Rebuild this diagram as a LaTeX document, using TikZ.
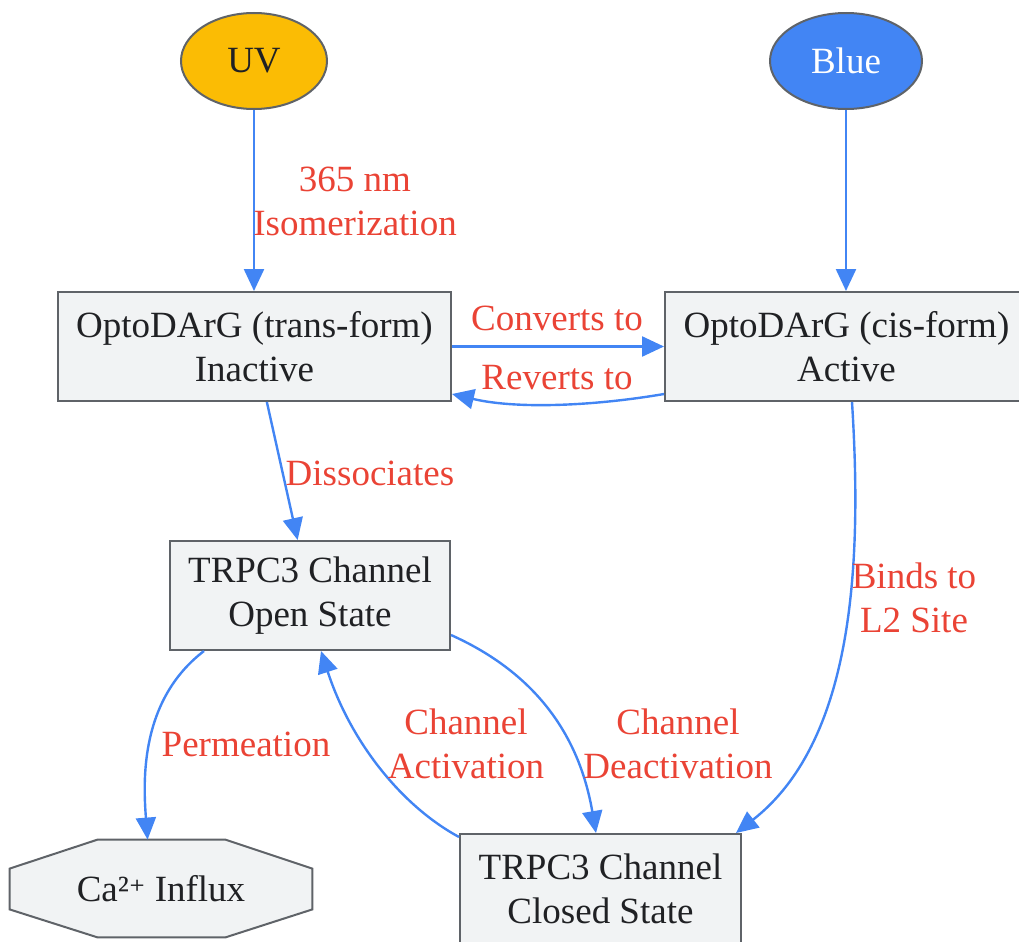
\documentclass[tikz,border=0pt]{standalone}
\usepackage{fontspec}
\setmainfont{Liberation Serif}
\newfontfamily\dejavuserif{DejaVu Serif}[Scale=0.85]
\usetikzlibrary{arrows.meta,calc,shapes.geometric}
\definecolor{gblue}{HTML}{4285F4}
\definecolor{gred}{HTML}{EA4335}
\definecolor{gyellow}{HTML}{FBBC04}
\definecolor{boxfill}{HTML}{F1F3F4}
\definecolor{boxline}{HTML}{5F6368}
\definecolor{txt}{HTML}{202124}
\tikzset{
  base/.style={font=\fontsize{18.5}{22}\selectfont, text=txt, align=center, inner sep=0pt},
  stepbox/.style={base, draw=boxline, fill=boxfill, line width=1pt, minimum height=54.5pt},
  light/.style={base, draw=boxline, line width=1pt, shape=ellipse, minimum width=73pt, minimum height=48pt},
  conn/.style={draw=gblue, line width=1.2pt, -{Triangle[length=11pt,width=10pt]}},
  lbl/.style={base, text=gred}
}
\begin{document}
\begin{tikzpicture}[x=0.5pt,y=-0.5pt]
\useasboundingbox (0,0) rectangle (1019,942);
% nodes
\node[light, fill=gyellow] (uv) at (254,61) {UV};
\node[light, fill=gblue, text=white, minimum width=76pt] (blue) at (846,61) {Blue};
\node[stepbox, minimum width=196.5pt] (trans) at (254.5,346.5) {OptoDArG (trans-form)\\Inactive};
\node[stepbox, minimum width=181.5pt] (cis) at (846.5,346.5) {OptoDArG (cis-form)\\Active};
\node[stepbox, minimum width=140pt] (open) at (310,595.5) {TRPC3 Channel\\Open State};
\node[stepbox, minimum width=140.5pt] (closed) at (600.5,888.5) {TRPC3 Channel\\Closed State};
\node[base, minimum width=151pt, minimum height=48.5pt] (ca) at (161,888.5) {};
\draw[draw=boxline, fill=boxfill, line width=1pt]
  ($(ca.north west)+(88,0)$) -- ($(ca.north east)+(-87,0)$) -- ($(ca.north east)+(0,29)$)
  -- ($(ca.south east)+(0,-28)$) -- ($(ca.south east)+(-87,0)$) -- ($(ca.south west)+(88,0)$)
  -- ($(ca.south west)+(0,-28)$) -- ($(ca.north west)+(0,29)$) -- cycle;
\node[base] at (ca) {Ca²{\dejavuserif ⁺} Influx};
% connectors
\draw[conn] (uv) -- (trans.north -| uv);
\draw[conn] (blue) -- (cis.north -| blue);
\draw[conn] (trans.east) -- (cis.west);
\draw[conn] ($(cis.west)+(0,47.5)$) .. controls (600,405) and (520,410) .. ($(trans.east)+(0,47.5)$);
\draw[conn] (trans) -- (open);
\draw[conn] ($(cis.south west)+(188,0)$) .. controls (862,560) and (855,740) .. ($(closed.north east)+(-6,0)$);
\draw[conn] ($(open.east)+(0,39.5)$) .. controls (540,675) and (580,740) .. ($(closed.north west)+(137,0)$);
\draw[conn] ($(closed.north west)+(0,4)$) .. controls (400,805) and (350,740) .. ($(open.south west)+(152,0)$);
\draw[conn] ($(open.south west)+(35,0)$) .. controls (140,700) and (143,780) .. ($(ca.north west)+(138,0)$);
% labels
\node[lbl] (l1) at (355,201) {365 nm\\Isomerization};
\node[lbl] (l2) at (557,318) {Converts to};
\node[lbl] (l3) at (557,378) {Reverts to};
\node[lbl] (l4) at (370,473) {Dissociates};
\node[lbl] (l5) at (914,598) {Binds to\\L2 Site};
\node[lbl] (l6) at (246,744) {Permeation};
\node[lbl] (l7) at (466,744) {Channel\\Activation};
\node[lbl] (l8) at (678,744) {Channel\\Deactivation};
\end{tikzpicture}
\end{document}
